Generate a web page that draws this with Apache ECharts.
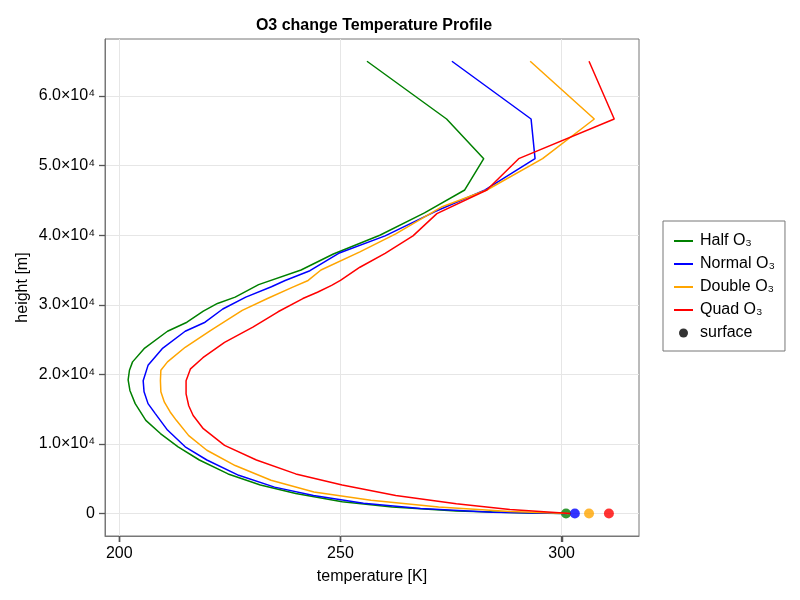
<!DOCTYPE html>
<html>
<head>
<meta charset="UTF-8">
<title>O3 change Temperature Profile</title>
<script src="https://cdn.jsdelivr.net/npm/echarts@6/dist/echarts.min.js"></script>
<style>
  html, body { margin: 0; padding: 0; background: #fff; }
  #main { width: 800px; height: 600px; }
</style>
</head>
<body>
<div id="main"></div>
<script>
// heights [m] and temperatures [K], top of profile first
var halfH   = [65000, 56700, 51000, 46500, 43200, 40000, 37300, 35000, 32900, 31100, 30200, 29100, 27500, 26200, 23700, 21800, 20600, 19200, 17700, 15800, 13400, 11500, 9600, 7700, 5700, 4100, 2900, 1700, 960, 380, 100, 0];
var halfT   = [256.0, 274.0, 282.4, 278.1, 269.0, 258.9, 248.4, 241.1, 231.5, 226.2, 222.2, 219.0, 215.3, 210.9, 205.6, 203.0, 202.3, 202.0, 202.4, 203.6, 206.0, 209.3, 213.3, 218.1, 224.6, 231.9, 239.9, 250.4, 261.7, 276.2, 292.3, 300.8];

var normalH = [65000, 56700, 51000, 46500, 43400, 39900, 37400, 34900, 33500, 32600, 31100, 29400, 27500, 26200, 23700, 21300, 19100, 17500, 15800, 14400, 12000, 9600, 7700, 5500, 3800, 2600, 1500, 720, 190, 0];
var normalT = [275.2, 293.1, 294.0, 282.7, 271.4, 260.1, 249.6, 243.1, 237.5, 234.4, 228.6, 223.4, 219.4, 214.9, 209.7, 206.5, 205.4, 205.6, 206.5, 208.1, 210.9, 214.9, 219.8, 227.0, 235.1, 243.9, 255.2, 268.1, 284.3, 301.2];

var doubleH = [65000, 56700, 51000, 46500, 44100, 40200, 37600, 35000, 33500, 32500, 30900, 29200, 26300, 23900, 21800, 20600, 19100, 17500, 16000, 14600, 13400, 11200, 9100, 6900, 4800, 3100, 1900, 960, 290, 0];
var doubleT = [292.9, 307.4, 295.7, 283.1, 273.0, 262.5, 254.4, 245.6, 242.7, 239.1, 233.5, 227.8, 220.6, 214.9, 210.9, 209.4, 209.3, 209.4, 210.2, 211.5, 212.9, 215.7, 219.8, 226.2, 234.3, 244.0, 256.9, 272.2, 288.3, 301.5];

var quadH   = [65000, 56700, 51000, 46500, 43100, 39900, 37400, 35400, 33500, 32800, 31800, 30900, 29000, 26800, 24600, 22400, 20800, 19100, 17200, 15500, 14100, 12200, 9800, 7700, 5700, 4100, 2600, 1400, 570, 0];
var quadT   = [306.2, 311.9, 290.3, 283.1, 271.8, 266.4, 260.1, 254.4, 250.0, 248.0, 244.8, 241.5, 235.9, 230.2, 223.8, 218.9, 216.1, 215.1, 215.1, 215.7, 216.7, 219.0, 223.8, 231.0, 239.9, 250.4, 262.5, 276.2, 288.3, 302.0];

var surfaceT = [301.0, 303.0, 306.2, 310.7];
var surfaceH = [0, 0, 0, 0];

var seriesNames  = ['Half O₃', 'Normal O₃', 'Double O₃', 'Quad O₃'];
var seriesColors = ['#008000', '#0000ff', '#ffa500', '#ff0000'];

var xTicks = [200, 250, 300];
var yTicks = [0, 10000, 20000, 30000, 40000, 50000, 60000];

var xMin = 196.77, xMax = 317.5;
var yMin = -3221, yMax = 68196;

function pairs(t, h) {
  return t.map(function (v, i) { return [v, h[i]]; });
}

var profiles = [pairs(halfT, halfH), pairs(normalT, normalH), pairs(doubleT, doubleH), pairs(quadT, quadH)];

var myChart = echarts.init(document.getElementById('main'));

var series = [{
  name: 'surface',
  type: 'scatter',
  symbolSize: 10,
  itemStyle: { color: '#000' },
  z: 1,
  data: surfaceT.map(function (v, i) {
    return { value: [v, surfaceH[i]], itemStyle: { color: seriesColors[i] } };
  })
}];

profiles.forEach(function (p, i) {
  series.push({
    name: seriesNames[i],
    type: 'line',
    symbol: 'none',
    z: 2,
    lineStyle: { color: seriesColors[i], width: 1.5 },
    itemStyle: { color: seriesColors[i] },
    data: p
  });
});

var textFont = { fontFamily: 'Liberation Sans', fontSize: 16, color: '#000' };
var tickLine = { color: '#555', width: 1.3 };
// thin bar used as the legend mark for the lines
var lineIcon = 'path://M0,0H19V2H0Z';

myChart.setOption({
  animation: false,
  textStyle: { fontFamily: 'Liberation Sans' },
  title: {
    text: 'O3 change Temperature Profile',
    left: 369,
    textAlign: 'center',
    top: 13,
    textStyle: { fontFamily: 'Liberation Sans', fontSize: 16, fontWeight: 'bold', color: '#000' }
  },
  grid: {
    left: 105, right: 161, top: 39, bottom: 64,
    show: true,
    borderColor: '#777',
    borderWidth: 1,
    outerBoundsMode: 'none'
  },
  legend: {
    orient: 'vertical',
    left: 663,
    top: 221,
    padding: [11, 10, 9, 11],
    borderColor: '#777',
    borderWidth: 1,
    itemWidth: 19,
    itemHeight: 9,
    itemGap: 5,
    symbolKeepAspect: true,
    textStyle: { fontFamily: 'Liberation Sans', fontSize: 16, lineHeight: 18, color: '#000', padding: [0, 0, 0, 2] },
    data: [
      { name: 'Half O₃', icon: lineIcon },
      { name: 'Normal O₃', icon: lineIcon },
      { name: 'Double O₃', icon: lineIcon },
      { name: 'Quad O₃', icon: lineIcon },
      { name: 'surface', icon: 'circle' }
    ]
  },
  xAxis: {
    type: 'value',
    min: xMin,
    max: xMax,
    name: 'temperature [K]',
    nameLocation: 'middle',
    nameGap: 33,
    nameMoveOverlap: false,
    nameTextStyle: textFont,
    axisLine: { show: true, onZero: false, lineStyle: { color: '#777', width: 1 } },
    axisTick: { show: true, length: 6, customValues: xTicks, lineStyle: tickLine },
    axisLabel: { customValues: xTicks, margin: 10, fontFamily: 'Liberation Sans', fontSize: 16, color: '#000' },
    splitLine: { show: true, lineStyle: { color: '#e6e6e6', width: 1 } }
  },
  yAxis: {
    type: 'value',
    min: yMin,
    max: yMax,
    name: 'height [m]',
    nameLocation: 'middle',
    nameGap: 74,
    nameMoveOverlap: false,
    nameTextStyle: textFont,
    axisLine: { show: true, onZero: false, lineStyle: { color: '#777', width: 1 } },
    axisTick: { show: true, length: 6, customValues: yTicks, lineStyle: tickLine },
    axisLabel: {
      customValues: yTicks,
      margin: 10,
      fontFamily: 'Liberation Sans',
      fontSize: 16,
      color: '#000',
      formatter: function (v) {
        if (v === 0) return '0';
        return (v / 10000).toFixed(1) + '×10⁴';
      }
    },
    splitLine: { show: true, lineStyle: { color: '#e6e6e6', width: 1 } }
  },
  series: series
});

// bottom tick marks, placed through the axis scale, drawn above everything else
var gridBottom = 600 - 64;
var tickMarks = xTicks.map(function (v) {
  var px = Math.round(myChart.convertToPixel({ xAxisIndex: 0 }, v)) + 0.5;
  return {
    type: 'rect',
    silent: true,
    z: 100,
    shape: { x: px - 0.75, y: gridBottom, width: 1.5, height: 6 },
    style: { fill: '#555' }
  };
});
myChart.setOption({ graphic: { elements: tickMarks } });
</script>
</body>
</html>
